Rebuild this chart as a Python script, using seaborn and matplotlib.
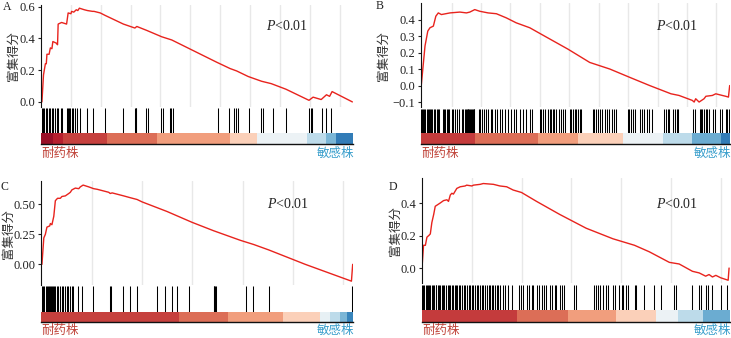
import numpy as np
import pandas as pd
import matplotlib
matplotlib.use("Agg")
import matplotlib.pyplot as plt
import seaborn as sns

# ---------------- data (x in % of ranked gene list) ----------------
A_es_x = [0.3, 0.8, 1.4, 1.7, 1.9, 2.6, 3.0, 3.5, 3.8, 4.9, 5.3, 5.5, 6.6, 8.2, 8.7, 9.6, 9.8, 10.5, 11.3, 11.8,
          12.3, 13.9, 14.9, 16.5, 17.0, 19.0, 20.5, 26.4, 30.1, 30.7, 33.9, 38.7, 41.9, 56.3, 60.6, 62.7, 66.4,
          70.7, 73.8, 78.5, 85.9, 87.2, 89.8, 91.5, 92.5, 93.3, 99.8]
A_es_y = [0.0, 0.17, 0.24, 0.24, 0.30, 0.30, 0.34, 0.335, 0.38, 0.37, 0.36, 0.49, 0.50, 0.49, 0.56, 0.555, 0.57,
          0.565, 0.58, 0.575, 0.59, 0.58, 0.575, 0.57, 0.57, 0.56, 0.545, 0.49, 0.465, 0.475, 0.45, 0.41, 0.39,
          0.25, 0.21, 0.195, 0.16, 0.13, 0.115, 0.08, 0.01, 0.03, 0.015, 0.045, 0.035, 0.065, 0.0]
A_hits = [0.3, 0.5, 1.0, 1.5, 1.9, 2.5, 3.0, 3.5, 3.9, 4.6, 5.1, 5.5, 6.4, 6.8, 8.4, 8.6, 9.0, 9.4, 9.8, 10.3,
          11.0, 11.6, 12.5, 14.6, 16.7, 20.5, 26.3, 30.1, 30.4, 30.6, 33.8, 34.3, 38.6, 39.1, 41.3, 41.8, 42.3,
          56.6, 60.3, 61.9, 62.5, 63.0, 66.7, 70.5, 71.0, 74.2, 78.5, 85.9, 86.5, 87.0, 90.0, 91.5, 92.9]
A_bar_edges = [0, 4, 7, 21.3, 37.1, 60.6, 69.3, 85.1, 91.5, 94.7, 100]
A_bar_levels = [0.93, 0.89, 0.84, 0.78, 0.71, 0.62, 0.47, 0.37, 0.27, 0.15]
A_yticks = [0.0, 0.2, 0.4, 0.6]
A_yticklabels = ["0.0", "0.2", "0.4", "0.6"]

B_es_x = [0.0, 1.3, 2.2, 2.9, 4.0, 4.8, 5.6, 6.6, 9.4, 12.6, 14.7, 15.8, 17.4, 19.0, 21.7, 24.4, 27.6, 30.8,
          35.2, 39.0, 47.6, 54.6, 61.1, 67.5, 74.0, 80.9, 83.5, 87.8, 88.4, 88.9, 90.0, 91.6, 92.2, 94.3, 95.4,
          97.5, 98.6, 99.5, 99.9]
B_es_y = [-0.016, 0.24, 0.33, 0.35, 0.36, 0.42, 0.44, 0.43, 0.44, 0.445, 0.44, 0.445, 0.46, 0.45, 0.44, 0.435,
          0.41, 0.38, 0.35, 0.31, 0.22, 0.14, 0.10, 0.05, 0.0, -0.05, -0.06, -0.09, -0.10, -0.08, -0.10, -0.08,
          -0.065, -0.06, -0.05, -0.06, -0.065, -0.07, 0.0]
B_hits = [0.0, 0.2, 0.5, 0.9, 1.2, 1.8, 2.2, 2.5, 2.9, 3.2, 3.7, 4.2, 4.6, 5.1, 5.5, 5.9, 7.1, 7.4, 7.8, 8.3,
          8.7, 9.1, 10.0, 10.4, 10.9, 11.5, 12.2, 13.2, 13.7, 14.1, 14.5, 14.8, 15.1, 15.3, 15.5, 15.8, 16.1,
          16.5, 16.8, 17.1, 17.3, 18.7, 19.2, 19.7, 20.3, 21.0, 21.7, 22.5, 23.1, 23.9, 24.6, 25.5, 26.3, 27.1,
          28.2, 29.2, 30.0, 30.9, 31.9, 33.0, 34.1, 35.2, 36.0, 38.4, 38.9, 39.5, 40.0, 41.1, 41.6, 42.2, 42.7,
          43.2, 43.8, 44.8, 45.4, 45.9, 46.6, 48.1, 48.6, 49.1, 49.7, 50.2, 50.8, 51.3, 51.9, 55.6, 56.0, 56.7,
          57.3, 58.0, 58.6, 59.4, 60.1, 61.0, 61.8, 62.6, 63.1, 66.9, 67.4, 68.0, 68.7, 69.4, 70.9, 71.5, 72.3,
          73.0, 73.9, 74.7, 78.7, 79.2, 79.8, 80.3, 81.6, 82.2, 82.7, 83.3, 88.1, 88.7, 90.2, 90.6, 91.1, 91.6,
          92.2, 92.7, 93.2, 94.5, 95.2, 96.7, 97.3, 98.6, 99.1, 99.7]
B_bar_edges = [0, 17.4, 37.8, 50.8, 65.3, 78.2, 87.8, 97.0, 100]
B_bar_levels = [0.85, 0.78, 0.71, 0.62, 0.47, 0.37, 0.25, 0.15]
B_yticks = [-0.1, 0.0, 0.1, 0.2, 0.3, 0.4]
B_yticklabels = ["\u22120.1", "0.0", "0.1", "0.2", "0.3", "0.4"]

C_es_x = [0.3, 0.9, 1.4, 1.9, 2.8, 3.0, 3.5, 4.1, 4.6, 5.3, 6.2, 6.7, 7.8, 8.9, 9.4, 9.9, 11.0, 12.1, 12.6,
          13.5, 15.3, 16.9, 18.0, 21.7, 22.2, 22.8, 26.5, 28.6, 30.8, 32.4, 40.4, 48.4, 55.3, 63.9, 68.2, 73.0,
          84.7, 99.5, 99.9]
C_es_y = [0.0, 0.22, 0.25, 0.31, 0.32, 0.34, 0.33, 0.40, 0.53, 0.55, 0.55, 0.565, 0.57, 0.59, 0.60, 0.62, 0.635,
          0.63, 0.645, 0.66, 0.645, 0.63, 0.625, 0.60, 0.59, 0.595, 0.57, 0.555, 0.54, 0.52, 0.44, 0.35, 0.28,
          0.20, 0.165, 0.12, 0.0, -0.14, 0.0]
C_hits = [0.4, 0.7, 1.1, 1.5, 1.8, 2.1, 2.6, 2.9, 3.2, 3.6, 4.0, 4.3, 4.5, 5.0, 5.6, 6.1, 6.6, 7.2, 7.7, 8.2,
          8.8, 9.3, 9.8, 10.4, 11.8, 13.0, 16.8, 22.1, 22.4, 26.4, 28.5, 30.8, 37.2, 39.9, 42.0, 43.6, 47.5,
          55.3, 55.6, 55.8, 56.0, 65.8, 68.1, 73.0, 99.6]
C_bar_edges = [0, 44.1, 59.9, 77.6, 89.5, 92.7, 95.7, 98.1, 100]
C_bar_levels = [0.84, 0.78, 0.71, 0.62, 0.46, 0.37, 0.27, 0.17]
C_yticks = [0.0, 0.25, 0.5]
C_yticklabels = ["0.00", "0.25", "0.50"]

D_es_x = [0.0, 0.5, 1.1, 1.6, 2.2, 2.7, 3.2, 3.8, 4.3, 5.1, 5.9, 7.0, 8.1, 8.6, 9.2, 9.7, 10.2, 11.3, 12.4,
          14.0, 14.5, 16.2, 16.7, 18.9, 19.9, 23.2, 25.3, 27.5, 29.6, 32.3, 37.2, 44.7, 53.3, 62.0, 69.0, 73.8,
          80.3, 83.5, 87.8, 90.0, 92.1, 93.2, 94.3, 95.4, 97.0, 98.6, 99.4, 99.7]
D_es_y = [0.0, 0.14, 0.14, 0.19, 0.20, 0.21, 0.28, 0.33, 0.38, 0.39, 0.40, 0.415, 0.42, 0.41, 0.45, 0.46, 0.455,
          0.49, 0.50, 0.505, 0.51, 0.505, 0.51, 0.515, 0.52, 0.515, 0.505, 0.50, 0.48, 0.465, 0.41, 0.33, 0.245,
          0.18, 0.14, 0.10, 0.035, 0.025, -0.02, -0.03, -0.05, -0.04, -0.055, -0.045, -0.06, -0.07, -0.075, 0.0]
D_hits = [0.1, 0.4, 0.8, 1.2, 1.6, 2.0, 2.4, 2.7, 3.1, 3.6, 4.0, 4.4, 4.7, 5.2, 5.6, 6.0, 6.5, 6.9, 7.3, 7.8,
          8.3, 8.7, 9.2, 9.6, 10.0, 10.6, 11.0, 11.5, 12.0, 12.4, 12.9, 13.5, 14.0, 14.5, 15.1, 15.6, 16.2, 16.7,
          17.2, 17.8, 18.3, 18.9, 19.4, 19.9, 20.5, 21.0, 21.6, 22.1, 22.6, 23.2, 23.7, 24.2, 24.8, 25.3, 26.2,
          27.0, 28.0, 29.1, 31.6, 32.3, 32.9, 34.2, 34.8, 35.6, 36.1, 37.4, 38.0, 38.8, 39.5, 40.2, 41.7, 42.3,
          43.1, 43.6, 44.9, 45.6, 46.2, 49.2, 49.9, 55.7, 56.4, 57.0, 57.7, 58.9, 59.6, 60.3, 62.0, 62.6, 64.1,
          64.8, 65.2, 66.3, 66.8, 69.1, 69.5, 72.2, 75.4, 77.6, 81.9, 82.4, 87.8, 90.0, 90.5, 92.1, 92.7, 94.3,
          97.0, 99.1]
D_bar_edges = [0, 30.7, 47.4, 63.0, 76.0, 83.0, 91.1, 100]
D_bar_levels = [0.85, 0.78, 0.71, 0.62, 0.47, 0.37, 0.25]
D_yticks = [0.0, 0.2, 0.4]
D_yticklabels = ["0.0", "0.2", "0.4"]

panel_letters = ["A", "B", "C", "D"]
ylabel_text = "富集得分"
left_label = "耐药株"
right_label = "敏感株"
p_text = r"$\it{P}$<0.01"

# ---------------- style ----------------
sns.set_theme(style="ticks")
plt.rcParams["font.family"] = ["Liberation Serif", "Noto Sans CJK SC", "DejaVu Sans"]
plt.rcParams["mathtext.fontset"] = "custom"
plt.rcParams["mathtext.rm"] = "Liberation Serif"
plt.rcParams["mathtext.it"] = "Liberation Serif:italic"

W, H = 731, 338
fig = plt.figure(figsize=(W / 100, H / 100), dpi=100)
cmap = sns.color_palette("RdBu_r", as_cmap=True)
RED = "#e8231d"
CJK = ["Noto Sans CJK SC", "DejaVu Sans"]


def px_axes(x0, y0, x1, y1):
    return fig.add_axes([x0 / W, 1 - y1 / H, (x1 - x0) / W, (y1 - y0) / H])


panels = [
    dict(x=A_es_x, y=A_es_y, hits=A_hits, edges=A_bar_edges, levels=A_bar_levels, yt=A_yticks, ytl=A_yticklabels,
         ylim=(-0.032, 0.61), es=(41, 5, 353, 107), hit=(108, 133), bar=(133, 144), grid=(9.57, 9.57),
         letter=(7, 7), ylab=(13, 56), lab_y=153, p=(0.72, 0.79)),
    dict(x=B_es_x, y=B_es_y, hits=B_hits, edges=B_bar_edges, levels=B_bar_levels, yt=B_yticks, ytl=B_yticklabels,
         ylim=(-0.13, 0.50), es=(421, 3, 730, 107), hit=(109, 133), bar=(133, 144), grid=(9.9, 9.52),
         letter=(380, 6), ylab=(383, 56), lab_y=153, p=(0.76, 0.78)),
    dict(x=C_es_x, y=C_es_y, hits=C_hits, edges=C_bar_edges, levels=C_bar_levels, yt=C_yticks, ytl=C_yticklabels,
         ylim=(-0.172, 0.694), es=(41, 181, 353, 285), hit=(286, 312), bar=(312, 322), grid=(16.35, 16.09),
         letter=(4, 187), ylab=(8, 234), lab_y=330, p=(0.724, 0.78)),
    dict(x=D_es_x, y=D_es_y, hits=D_hits, edges=D_bar_edges, levels=D_bar_levels, yt=D_yticks, ytl=D_yticklabels,
         ylim=(-0.092, 0.554), es=(422, 178, 730, 283), hit=(285, 310), bar=(310, 322), grid=(16.16, 16.16),
         letter=(393, 187), ylab=(395, 231), lab_y=330, p=(0.76, 0.75)),
]

for letter, P in zip(panel_letters, panels):
    x0, y0, x1, y1 = P["es"]
    ax = px_axes(x0, y0, x1, y1)
    df = pd.DataFrame({"rank": P["x"], "es": P["y"]})
    sns.lineplot(data=df, x="rank", y="es", ax=ax, color=RED, lw=1.0, estimator=None, sort=False)
    ax.set_xlim(0, 100)
    ax.set_ylim(*P["ylim"])
    g0, gs = P["grid"]
    ax.set_xticks(np.arange(g0, 100, gs))
    ax.tick_params(axis="x", length=0, labelbottom=False)
    ax.grid(axis="x", color="#e8e8e8", lw=1.0)
    ax.grid(axis="y", visible=False)
    ax.set_yticks(P["yt"])
    ax.set_yticklabels(P["ytl"])
    ax.tick_params(axis="y", length=2.5, width=0.8, pad=1.5, labelsize=9, colors="#222222")
    for s in ["top", "right", "bottom"]:
        ax.spines[s].set_visible(False)
    ax.spines["left"].set_color("#111111")
    ax.spines["left"].set_linewidth(0.8)
    ax.set_xlabel("")
    ax.set_ylabel("")
    ax.text(P["p"][0], P["p"][1], p_text, transform=ax.transAxes, fontsize=10, color="#222222",
            ha="left", va="center")

    # hits
    hy0, hy1 = P["hit"]
    axh = px_axes(x0, hy0, x1, hy1)
    axh.vlines(P["hits"], 0, 1, color="black", lw=0.75)
    axh.set_xlim(0, 100)
    axh.set_ylim(0, 1)
    axh.axis("off")

    # ranked-metric colour bar
    by0, by1 = P["bar"]
    axb = px_axes(x0, by0, x1, by1)
    edges = np.array(P["edges"])
    axb.bar(edges[:-1], 1, width=np.diff(edges), align="edge", bottom=0,
            color=[cmap(v) for v in P["levels"]], linewidth=0)
    axb.set_xlim(0, 100)
    axb.set_ylim(0, 1)
    axb.set_xticks([])
    axb.set_yticks([])
    for s in ["top", "right", "left"]:
        axb.spines[s].set_visible(False)
    axb.spines["bottom"].set_color("#111111")
    axb.spines["bottom"].set_linewidth(1.0)

    # texts
    lx, ly = P["letter"]
    fig.text(lx / W, 1 - ly / H, letter, fontsize=8.5, ha="center", va="center", color="#222222")
    yx, yy = P["ylab"]
    fig.text(yx / W, 1 - yy / H, ylabel_text, fontsize=9, rotation=90, ha="center", va="center",
             family=CJK, color="#333333")
    fig.text(x0 / W, 1 - P["lab_y"] / H, left_label, fontsize=9, ha="left", va="center",
             family=CJK, color="#c0443a")
    fig.text(min(x1 + 1, W) / W, 1 - P["lab_y"] / H, right_label, fontsize=9, ha="right", va="center",
             family=CJK, color="#3a9fcc")

fig.savefig("out.png", dpi=100)
